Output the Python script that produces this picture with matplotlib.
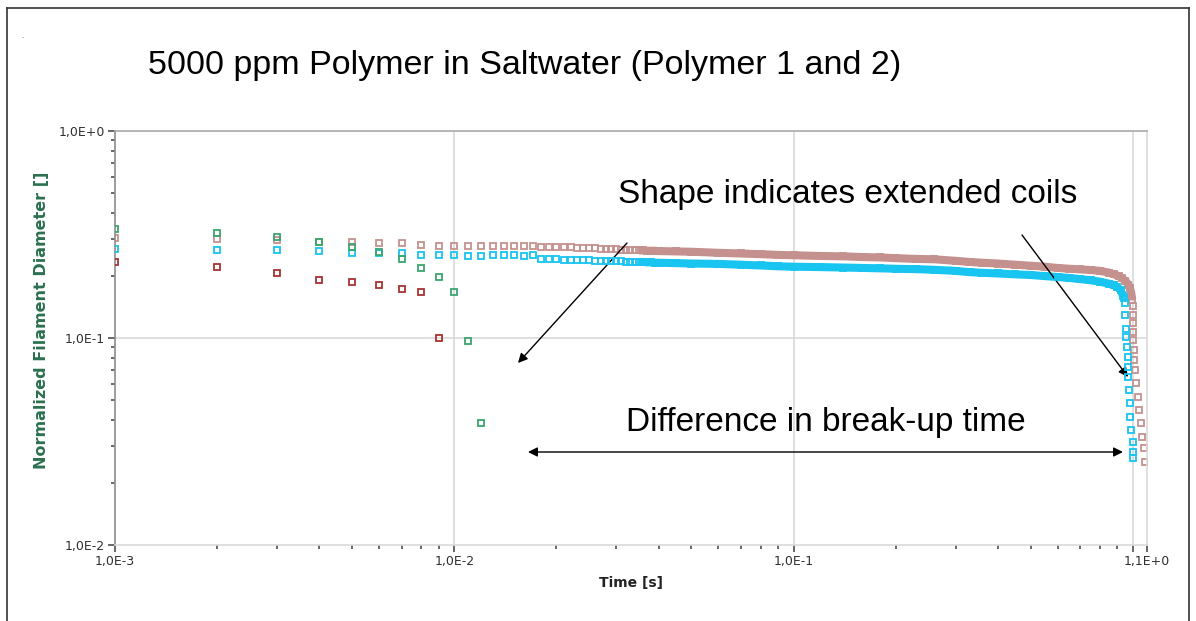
"""
Filament thinning curves, 5000 ppm polymer in saltwater.
Log-log plot of normalized filament diameter against time.
"""

import numpy as np
import matplotlib
matplotlib.use("Agg")
import matplotlib.pyplot as plt
from matplotlib.lines import Line2D

W, H = 1196, 621

# ---- data ----
green_t = [0.001, 0.002, 0.003, 0.004, 0.005, 0.006, 0.007, 0.008, 0.009,
           0.010, 0.011, 0.012]
green_d = [0.335, 0.320, 0.307, 0.291, 0.276, 0.259, 0.242, 0.218, 0.197,
           0.166, 0.097, 0.039]

red_t = [0.001, 0.002, 0.003, 0.004, 0.005, 0.006, 0.007, 0.008, 0.009]
red_d = [0.234, 0.221, 0.205, 0.190, 0.186, 0.180, 0.172, 0.166, 0.100]

pink_t = [0.001, 0.002, 0.003, 0.004, 0.005, 0.006, 0.007, 0.008, 0.009,
          0.010, 0.011, 0.012, 0.013, 0.014, 0.015, 0.016, 0.017, 0.018,
          0.019, 0.020, 0.021, 0.022, 0.023, 0.024, 0.025, 0.026, 0.027,
          0.028, 0.029, 0.030, 0.031, 0.032, 0.033, 0.034, 0.035, 0.036,
          0.037, 0.038, 0.039, 0.040,
          0.045, 0.05, 0.06, 0.07, 0.08, 0.09, 0.10, 0.12, 0.14, 0.16,
          0.18, 0.20, 0.23, 0.26, 0.30, 0.33, 0.36, 0.40, 0.45, 0.50,
          0.55, 0.60, 0.65, 0.70, 0.75, 0.80, 0.85, 0.88, 0.91, 0.93,
          0.95, 0.97, 0.98, 0.99, 0.995,
          0.997, 0.998, 0.999, 1.001, 1.003, 1.005, 1.009, 1.016, 1.023,
          1.032, 1.042, 1.054, 1.063, 1.075, 1.087]
pink_d = [0.303, 0.300, 0.296, 0.292, 0.290, 0.287, 0.287, 0.282, 0.279,
          0.279, 0.279, 0.279, 0.279, 0.279, 0.278, 0.279, 0.277, 0.276,
          0.276, 0.275, 0.275, 0.274, 0.273, 0.272, 0.272, 0.271, 0.270,
          0.270, 0.269, 0.268, 0.267, 0.266, 0.266, 0.265, 0.265, 0.265,
          0.264, 0.264, 0.264, 0.263,
          0.262, 0.261, 0.258, 0.256, 0.254, 0.252, 0.251, 0.249, 0.248,
          0.246, 0.245, 0.243, 0.241, 0.240, 0.236, 0.233, 0.231, 0.229,
          0.226, 0.2235, 0.221, 0.218, 0.216, 0.2145, 0.213, 0.211, 0.207,
          0.203, 0.199, 0.194, 0.189, 0.181, 0.174, 0.163, 0.152,
          0.142, 0.129, 0.118, 0.107, 0.098, 0.0875, 0.078, 0.070, 0.0604,
          0.0521, 0.0449, 0.0387, 0.0334, 0.0293, 0.0253]

cyan_t = [0.001, 0.002, 0.003, 0.004, 0.005, 0.006, 0.007, 0.008, 0.009,
          0.010, 0.011, 0.012, 0.013, 0.014, 0.015, 0.016, 0.017, 0.018,
          0.019, 0.020, 0.021, 0.022, 0.023, 0.024, 0.025, 0.026, 0.027,
          0.028, 0.029, 0.030, 0.031, 0.032, 0.033, 0.034, 0.035, 0.036,
          0.037, 0.038, 0.039, 0.040,
          0.045, 0.05, 0.06, 0.07, 0.08, 0.09, 0.10, 0.12, 0.14, 0.16,
          0.18, 0.20, 0.23, 0.26, 0.30, 0.33, 0.36, 0.40, 0.45, 0.50,
          0.55, 0.60, 0.65, 0.70, 0.75, 0.80, 0.85, 0.88, 0.90, 0.92,
          0.935, 0.94,
          0.946, 0.950, 0.954, 0.957, 0.960, 0.964, 0.967, 0.970, 0.974,
          0.977, 0.983, 0.990, 0.997, 1.001, 1.003]
cyan_d = [0.270, 0.266, 0.266, 0.262, 0.258, 0.258, 0.256, 0.252, 0.252,
          0.252, 0.248, 0.250, 0.251, 0.251, 0.251, 0.250, 0.252, 0.241,
          0.240, 0.240, 0.239, 0.239, 0.238, 0.237, 0.237, 0.236, 0.236,
          0.236, 0.235, 0.235, 0.235, 0.234, 0.234, 0.234, 0.233, 0.233,
          0.232, 0.232, 0.231, 0.231,
          0.230, 0.229, 0.228, 0.226, 0.224, 0.222, 0.221, 0.220, 0.219,
          0.218, 0.217, 0.216, 0.215, 0.2135, 0.211, 0.208, 0.2065, 0.205,
          0.203, 0.2015, 0.199, 0.197, 0.195, 0.1925, 0.190, 0.187, 0.183,
          0.180, 0.176, 0.170, 0.160, 0.156,
          0.147, 0.129, 0.111, 0.1015, 0.0908, 0.0812, 0.0727, 0.065, 0.0561,
          0.0483, 0.0417, 0.0359, 0.0315, 0.0282, 0.0262]

x_ticks = [1e-3, 1e-2, 1e-1, 1.0, 1.1]
x_tick_labels = ["1,0E-3", "1,0E-2", "1,0E-1", "", "1,1E+0"]
y_ticks = [1e-2, 1e-1, 1.0]
y_tick_labels = ["1,0E-2", "1,0E-1", "1,0E+0"]
x_grid = [1e-2, 1e-1, 1.0]
y_grid = [1e-1]

PINK = "#c4918f"
CYAN = "#18c4f0"
GREEN = "#3aa66e"
RED = "#a83232"
GRID = "#d9d9d9"


def fig_xy(px, py):
    """pixel position in the picture -> figure fraction"""
    return (px / W, 1 - py / H)


def plot_series(ax, t, d, color, band=None, z=2):
    t = np.array(t)
    d = np.array(d)
    if band is not None:
        m = (t >= band[0]) & (t <= band[1])
        ax.plot(t[m], d[m], color=color, lw=5.8, solid_capstyle="butt",
                zorder=z)
    ax.plot(t, d, linestyle="none", marker="s", ms=4.6, mfc="none",
            mec=color, mew=1.3, zorder=z + 0.5)


fig = plt.figure(figsize=(W / 100, H / 100), dpi=100)
ax = fig.add_axes([115 / W, 76 / H, 1032 / W, 414 / H])
ax.set_xscale("log")
ax.set_yscale("log")
ax.set_xlim(1e-3, 1.1)
ax.set_ylim(1e-2, 1.0)

for gx in x_grid:
    ax.axvline(gx, color=GRID, lw=1.2, zorder=1)
for gy in y_grid:
    ax.axhline(gy, color=GRID, lw=1.2, zorder=1)

plot_series(ax, pink_t, pink_d, PINK, band=(0.035, 0.995), z=2)
plot_series(ax, cyan_t, cyan_d, CYAN, band=(0.035, 0.94), z=3)
plot_series(ax, red_t, red_d, RED, z=4)
plot_series(ax, green_t, green_d, GREEN, z=5)

# ticks
ax.set_xticks(x_ticks)
ax.set_xticklabels(x_tick_labels)
ax.set_yticks(y_ticks)
ax.set_yticklabels(y_tick_labels)
ax.xaxis.set_minor_locator(matplotlib.ticker.LogLocator(base=10,
                           subs=np.arange(2, 10), numticks=20))
ax.yaxis.set_minor_locator(matplotlib.ticker.LogLocator(base=10,
                           subs=np.arange(2, 10), numticks=20))
ax.xaxis.set_minor_formatter(matplotlib.ticker.NullFormatter())
ax.yaxis.set_minor_formatter(matplotlib.ticker.NullFormatter())
ax.tick_params(which="major", length=5, width=1.1, color="#404040",
               labelsize=9, labelcolor="#303030", direction="out")
ax.tick_params(which="minor", length=3, width=1.1, color="#404040",
               direction="out")
ax.tick_params(axis="x", pad=2)
ax.tick_params(axis="y", pad=2)

ax.spines["left"].set_color("#8c8c8c")
ax.spines["left"].set_linewidth(1.2)
ax.spines["top"].set_color("#a8a8a8")
ax.spines["bottom"].set_color(GRID)
ax.spines["right"].set_color(GRID)
for s in ["top", "bottom", "right"]:
    ax.spines[s].set_linewidth(1.2)

# axis labels
fig.text(*fig_xy(631, 583), "Time [s]", ha="center", va="center",
         fontsize=10, fontweight="bold", color="#222222")
fig.text(*fig_xy(42, 320), "Normalized Filament Diameter []", ha="center",
         va="center", rotation=90, fontsize=11.5, fontweight="bold",
         color="#2b7050")

# title and notes
fig.text(*fig_xy(525, 74), "5000 ppm Polymer in Saltwater (Polymer 1 and 2)",
         ha="center", va="baseline", fontsize=24.5,
         family="Liberation Sans", color="black")
fig.text(*fig_xy(848, 203), "Shape indicates extended coils",
         ha="center", va="baseline", fontsize=24,
         family="Liberation Sans", color="black")
fig.text(*fig_xy(826, 431), "Difference in break-up time",
         ha="center", va="baseline", fontsize=24,
         family="Liberation Sans", color="black")

arrow = dict(arrowstyle="-|>", color="black", lw=1.0, mutation_scale=14,
             shrinkA=0, shrinkB=0)
ax.annotate("", xy=fig_xy(518, 363), xytext=fig_xy(627, 243),
            xycoords="figure fraction", textcoords="figure fraction",
            arrowprops=arrow)
ax.annotate("", xy=fig_xy(1128, 377), xytext=fig_xy(1022, 235),
            xycoords="figure fraction", textcoords="figure fraction",
            arrowprops=arrow)
ax.annotate("", xy=fig_xy(1123, 452), xytext=fig_xy(528, 452),
            xycoords="figure fraction", textcoords="figure fraction",
            arrowprops=dict(arrowstyle="<|-|>", color="black", lw=1.0,
                            mutation_scale=14, shrinkA=0, shrinkB=0))

# slide frame
frame = "#333333"
fig.add_artist(Line2D([7 / W, 7 / W], [0, 1 - 8 / H], color=frame, lw=1.2,
                      transform=fig.transFigure))
fig.add_artist(Line2D([7 / W, 1189 / W], [1 - 8 / H, 1 - 8 / H], color=frame,
                      lw=1.2, transform=fig.transFigure))
fig.add_artist(Line2D([1189 / W, 1189 / W], [0, 1 - 8 / H], color=frame,
                      lw=1.2, transform=fig.transFigure))
fig.text(*fig_xy(21, 38), ".", fontsize=5, color="#555555")

fig.savefig("out.png", dpi=100)
